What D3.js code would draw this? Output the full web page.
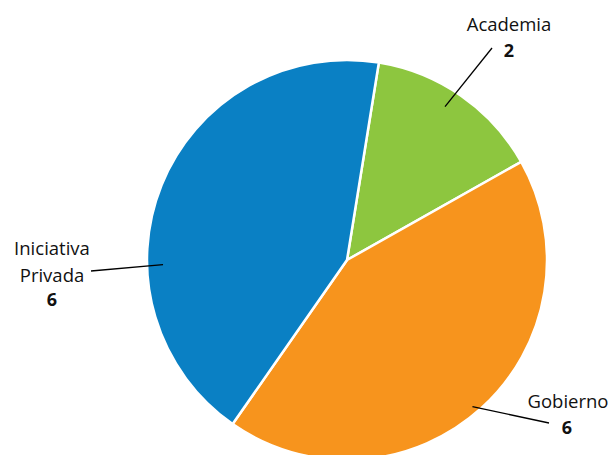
<!DOCTYPE html>
<html><head><meta charset="utf-8">
<script src="https://cdn.jsdelivr.net/npm/d3@7"></script>
<style>body{margin:0;background:#fff}svg{display:block}</style>
</head><body>
<script>
const categories = ["Academia", "Gobierno", "Iniciativa Privada"];
const values = [2, 6, 6];
const colors = ["#8DC63F", "#F7941D", "#0A80C4"];

const W = 609, H = 455, cx = 347, cy = 260, R = 200;
const svg = d3.select("body").append("svg").attr("width", W).attr("height", H);
const g = svg.append("g").attr("transform", `translate(${cx},${cy})`);
const offset = 0.16;
const pie = d3.pie().sort(null).startAngle(offset).endAngle(offset + 2 * Math.PI);
const arcs = pie(values);
const arc = d3.arc().innerRadius(0).outerRadius(R);
g.selectAll("path").data(arcs).enter().append("path")
  .attr("d", arc).attr("fill", (d, i) => colors[i])
  .attr("stroke", "#fff").attr("stroke-width", 2.5).attr("stroke-linejoin", "round");

// label layout (positions relative to the page)
const layout = [
  {lines: ["Academia"], x: 509, y: 31, vx: 509, vy: 57, inR: 182, angAdj: -0.04, lx: 492, ly: 48},
  {lines: ["Gobierno"], x: 568, y: 408, vx: 567, vy: 434, inR: 193, angAdj: 0.03, lx: 549, ly: 423},
  {lines: ["Iniciativa", "Privada"], x: 52, y: 255, vx: 52, vy: 306, inR: 184, angAdj: -0.41, lx: 91, ly: 271}
];
const font = "'Open Sans', 'Noto Sans', sans-serif";
arcs.forEach((d, i) => {
  const L = layout[i];
  const a = (d.startAngle + d.endAngle) / 2 + L.angAdj;
  const px = cx + L.inR * Math.sin(a), py = cy - L.inR * Math.cos(a);
  svg.append("line").attr("x1", px).attr("y1", py).attr("x2", L.lx).attr("y2", L.ly)
    .attr("stroke", "#000").attr("stroke-width", 1.3);
  L.lines.forEach((t, k) => {
    svg.append("text").attr("x", L.x).attr("y", L.y + k * 27).attr("text-anchor", "middle")
      .attr("font-family", font).attr("font-size", 18.5).attr("fill", "#111").text(t);
  });
  svg.append("text").attr("x", L.vx).attr("y", L.vy).attr("text-anchor", "middle")
    .attr("font-family", font).attr("font-size", 18).attr("font-weight", "bold").attr("fill", "#111").text(values[i]);
});
</script>
</body></html>
